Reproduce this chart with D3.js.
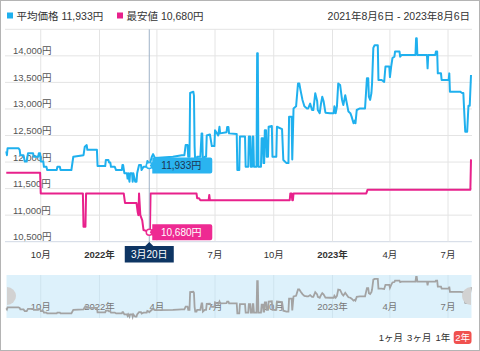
<!DOCTYPE html>
<html>
<head>
<meta charset="utf-8">
<script src="https://cdn.jsdelivr.net/npm/d3@7"></script>
<style>
    body { margin: 0; background: #fff; }
    svg { display: block; font-family: "Liberation Sans", "Noto Sans CJK JP", sans-serif; }
</style>
</head>
<body>
<div id="chart"></div>
<script>
// 平均価格 (average price)
const avgPrice = [
    ['2021-08-08',12200],['2021-08-09',12130],['2021-08-10',12260],['2021-08-27',12260],['2021-08-29',12230],
    ['2021-08-30',12130],['2021-09-04',12130],['2021-09-06',12010],['2021-09-09',12010],['2021-09-11',12165],
    ['2021-09-19',12165],['2021-09-20',12100],['2021-09-27',12100],['2021-09-28',12165],['2021-09-30',12165],
    ['2021-10-01',12010],['2021-10-05',12010],['2021-10-06',11910],['2021-10-10',11910],['2021-10-11',11850],
    ['2021-10-26',11850],['2021-10-27',11910],['2021-10-31',11910],['2021-11-01',11850],['2021-11-18',11850],
    ['2021-11-21',12100],['2021-12-07',12130],['2021-12-09',12290],['2021-12-12',12320],['2021-12-13',12230],
    ['2021-12-28',12230],['2021-12-29',11925],['2022-01-10',11925],['2022-01-11',12040],['2022-01-15',12040],
    ['2022-01-16',11990],['2022-01-18',11990],['2022-01-19',11910],['2022-01-25',11910],['2022-01-27',11850],
    ['2022-02-05',11850],['2022-02-06',11945],['2022-02-07',11945],['2022-02-09',11790],['2022-02-13',11790],
    ['2022-02-14',11690],['2022-02-15',11790],['2022-02-17',11630],['2022-02-18',11790],['2022-02-21',11790],
    ['2022-02-22',11630],['2022-02-23',11790],['2022-02-26',11630],['2022-02-28',11630],['2022-03-01',11790],
    ['2022-03-04',11945],['2022-03-07',11945],['2022-03-08',11850],['2022-03-11',11910],['2022-03-16',11910],
    ['2022-03-17',12020],['2022-03-19',11990],['2022-03-20',11933],['2022-03-24',12100],['2022-03-26',12150],
    ['2022-03-29',12075],['2022-04-26',12100],['2022-05-10',12130],['2022-05-14',12130],['2022-05-16',12320],
    ['2022-05-19',12320],['2022-05-20',12100],['2022-05-22',12100],['2022-05-23',13300],['2022-05-28',13325],
    ['2022-05-29',13250],['2022-05-30',12300],['2022-05-31',11980],['2022-06-02',11980],['2022-06-03',12100],
    ['2022-06-08',12100],['2022-06-10',12540],['2022-06-11',12540],['2022-06-12',11980],['2022-06-15',12100],
    ['2022-06-17',12100],['2022-06-18',12500],['2022-06-23',12520],['2022-06-26',12300],['2022-06-30',12300],
    ['2022-07-01',12600],['2022-07-06',12500],['2022-07-08',12665],['2022-07-09',12540],['2022-07-19',12560],
    ['2022-07-20',12660],['2022-07-22',12660],['2022-07-23',12540],['2022-08-04',12530],['2022-08-05',11850],
    ['2022-08-08',11850],['2022-08-09',12480],['2022-08-17',12480],['2022-08-18',11910],['2022-08-22',11910],
    ['2022-08-23',12480],['2022-08-25',12480],['2022-08-26',11910],['2022-08-28',11910],['2022-08-29',12480],
    ['2022-08-30',12480],['2022-08-31',11910],['2022-09-04',11910],['2022-09-05',14050],['2022-09-06',14050],
    ['2022-09-07',11910],['2022-09-11',11910],['2022-09-12',12450],['2022-09-14',12450],['2022-09-15',11980],
    ['2022-09-16',11980],['2022-09-17',12600],['2022-09-19',12600],['2022-09-20',12100],['2022-09-22',12100],
    ['2022-09-23',12665],['2022-09-28',12680],['2022-09-29',12100],['2022-10-05',12100],['2022-10-06',12665],
    ['2022-10-14',12620],['2022-10-16',12040],['2022-10-21',11980],['2022-10-24',11980],['2022-10-25',12855],
    ['2022-10-29',12855],['2022-10-30',12050],['2022-11-01',13010],['2022-11-05',13050],['2022-11-08',13480],
    ['2022-11-10',13480],['2022-11-12',13350],['2022-11-15',13170],['2022-11-18',13050],['2022-11-22',13010],
    ['2022-11-24',13010],['2022-11-27',13100],['2022-11-30',12980],['2022-12-02',12980],['2022-12-05',13295],
    ['2022-12-08',13150],['2022-12-09',12980],['2022-12-12',12920],['2022-12-14',13100],['2022-12-16',13230],
    ['2022-12-18',13150],['2022-12-21',12930],['2022-12-28',12920],['2023-01-03',12920],['2023-01-04',13050],
    ['2023-01-06',12920],['2023-01-08',13050],['2023-01-10',13480],['2023-01-13',13450],['2023-01-16',13170],
    ['2023-01-18',13075],['2023-01-21',13260],['2023-01-24',13075],['2023-01-26',12950],['2023-01-29',12920],
    ['2023-01-31',12855],['2023-02-03',12730],['2023-02-05',12780],['2023-02-06',12730],['2023-02-08',12980],
    ['2023-02-13',13010],['2023-02-21',13010],['2023-02-24',13580],['2023-02-26',13580],['2023-02-27',13230],
    ['2023-03-01',13170],['2023-03-03',13300],['2023-03-04',13480],['2023-03-06',14150],['2023-03-08',14200],
    ['2023-03-13',14200],['2023-03-14',13545],['2023-03-19',13545],['2023-03-23',13510],['2023-03-25',13800],
    ['2023-03-31',13800],['2023-04-01',13600],['2023-04-03',13800],['2023-04-05',13960],['2023-04-08',13985],
    ['2023-04-09',14080],['2023-04-16',14080],['2023-04-17',13985],['2023-04-19',14015],['2023-05-11',14015],
    ['2023-05-12',14330],['2023-05-13',14330],['2023-05-14',14015],['2023-05-29',14015],['2023-05-30',13765],
    ['2023-05-31',14015],['2023-06-11',14015],['2023-06-12',14080],['2023-06-14',14080],['2023-06-15',13670],
    ['2023-06-20',13670],['2023-06-21',13545],['2023-07-02',13545],['2023-07-03',13670],['2023-07-04',13325],
    ['2023-07-20',13325],['2023-07-23',13300],['2023-07-25',13300],['2023-07-26',13040],['2023-07-28',12570],
    ['2023-07-31',12570],['2023-08-02',13060],['2023-08-04',13060],['2023-08-06',13640]
];

// 最安値 (lowest price)
const minPrice = [
    ['2021-08-08',11800],['2021-09-30',11800],['2021-10-01',11410],['2021-12-06',11410],['2021-12-07',10780],
    ['2021-12-10',10780],['2021-12-11',11410],['2022-02-08',11410],['2022-02-10',11230],['2022-02-28',11230],
    ['2022-03-02',11050],['2022-03-03',11000],['2022-03-04',11410],['2022-03-06',11000],['2022-03-09',10900],
    ['2022-03-11',10720],['2022-03-16',10700],['2022-03-20',10680],['2022-03-21',10680],['2022-03-22',11410],
    ['2022-06-02',11410],['2022-06-03',11320],['2022-06-06',11320],['2022-06-08',11280],['2022-06-21',11280],
    ['2022-06-22',11380],['2022-06-23',11280],['2022-10-26',11280],['2022-10-27',11410],['2022-10-29',11410],
    ['2022-10-30',11280],['2022-10-31',11280],['2022-11-01',11410],['2023-02-23',11410],['2023-02-25',11480],
    ['2023-08-05',11480],['2023-08-06',12050]
];

const yTicks = [10500, 11000, 11500, 12000, 12500, 13000, 13500, 14000];
const yGrid = [10500, 11000, 11500, 12000, 12500, 13000, 13500, 14000, 14500];
const xTickDates = ['2021-10-01', '2022-01-01', '2022-04-01', '2022-07-01', '2022-10-01', '2023-01-01', '2023-04-01', '2023-07-01'];
const xTickLabels = ['10月', '2022年', '4月', '7月', '10月', '2023年', '4月', '7月'];
const rangeButtons = ['1ヶ月', '3ヶ月', '1年', '2年'];
const hover = { date: '2022-03-20', avg: 11933, min: 10680, label: '3月20日' };
const period = ['2021-08-06', '2023-08-06'];

const BLUE = '#1fb0ee';
const PINK = '#e8218c';

const parse = d3.timeParse('%Y-%m-%d');
const fmt = d3.format(',');

const svg = d3.select('#chart')
    .append('svg')
    .attr('width', 480)
    .attr('height', 351);

// Scales
const xScale = d3.scaleTime()
    .domain(period.map(parse))
    .range([5, 471]);

const yScale = d3.scaleLinear()
    .domain([10500, 14500])
    .range([241.7, 29.3]);

// Outer frame
svg.append('rect')
    .attr('x', 0.5).attr('y', 0.5)
    .attr('width', 479).attr('height', 350)
    .attr('fill', 'none')
    .attr('stroke', '#b4b4b4');

// Header legend
const legend = [
    { name: '平均価格', value: hover.avg, color: BLUE, x: 7 },
    { name: '最安値', value: hover.min, color: PINK, x: 117 }
];
legend.forEach(l => {
    svg.append('rect')
        .attr('x', l.x).attr('y', 12.5)
        .attr('width', 6).attr('height', 6)
        .attr('fill', l.color);
    svg.append('text')
        .attr('x', l.x + 9.5).attr('y', 20)
        .attr('font-size', 10.5)
        .attr('fill', '#333')
        .text(`${l.name} ${fmt(l.value)}円`);
});

const fmtJP = d => { const t = parse(d); return `${t.getFullYear()}年${t.getMonth() + 1}月${t.getDate()}日`; };
svg.append('text')
    .attr('x', 470).attr('y', 20)
    .attr('text-anchor', 'end')
    .attr('font-size', 10.5)
    .attr('fill', '#333')
    .text(`${fmtJP(period[0])} - ${fmtJP(period[1])}`);

// Grid lines
svg.append('g')
    .selectAll('line')
    .data(yGrid)
    .enter()
    .append('line')
    .attr('x1', 5).attr('x2', 472)
    .attr('y1', d => yScale(d)).attr('y2', d => yScale(d))
    .attr('stroke', d => d === 10500 ? '#d0d8e4' : '#e4e4e4');

svg.append('g')
    .selectAll('line')
    .data(xTickDates)
    .enter()
    .append('line')
    .attr('x1', d => xScale(parse(d))).attr('x2', d => xScale(parse(d)))
    .attr('y1', yScale(14500)).attr('y2', yScale(10500))
    .attr('stroke', '#e4e4e4');

// Y labels (inside plot)
svg.append('g')
    .selectAll('text')
    .data(yTicks)
    .enter()
    .append('text')
    .attr('x', 13)
    .attr('y', d => yScale(d) - 1.5)
    .attr('font-size', 9.5)
    .attr('fill', '#555')
    .text(d => fmt(d) + '円');

const cx = xScale(parse(hover.date));

// X axis labels (the one under the hover date label is covered, so skip it)
const xLabels = xTickDates.map((d, i) => ({ d, label: xTickLabels[i] }))
    .filter(t => Math.abs(xScale(parse(t.d)) - cx) > 30);

svg.append('g')
    .selectAll('text')
    .data(xLabels)
    .enter()
    .append('text')
    .attr('x', t => xScale(parse(t.d)))
    .attr('y', 258)
    .attr('text-anchor', 'middle')
    .attr('font-size', 9.5)
    .attr('font-weight', t => t.label.includes('年') ? 'bold' : 'normal')
    .attr('fill', '#333')
    .text(t => t.label);

// Lines
const line = d3.line()
    .x(d => xScale(parse(d[0])))
    .y(d => yScale(d[1]));

svg.append('path')
    .datum(minPrice)
    .attr('fill', 'none')
    .attr('stroke', PINK)
    .attr('stroke-width', 2)
    .attr('stroke-linejoin', 'round')
    .attr('d', line);

svg.append('path')
    .datum(avgPrice)
    .attr('fill', 'none')
    .attr('stroke', BLUE)
    .attr('stroke-width', 2)
    .attr('stroke-linejoin', 'round')
    .attr('d', line);

// Crosshair + tooltips
svg.append('line')
    .attr('x1', cx).attr('x2', cx)
    .attr('y1', yScale(14500)).attr('y2', 244)
    .attr('stroke', '#9fb3c8')
    .attr('stroke-width', 1);

const tips = [
    { value: hover.avg, fill: '#2ab4f0', text: '#1c3550' },
    { value: hover.min, fill: '#ee2a92', text: '#fff' }
];
tips.forEach(t => {
    const ty = yScale(t.value);
    svg.append('circle')
        .attr('cx', cx).attr('cy', ty).attr('r', 3)
        .attr('fill', '#fff')
        .attr('stroke', t.fill).attr('stroke-width', 1.5);
    svg.append('path')
        .attr('d', `M${cx + 3},${ty - 8} H${cx + 61} a2,2 0 0 1 2,2 V${ty + 6} a2,2 0 0 1 -2,2 H${cx + 3} V${ty + 3.5} L${cx + 0.5},${ty} L${cx + 3},${ty - 3.5} Z`)
        .attr('fill', t.fill);
    svg.append('text')
        .attr('x', cx + 32).attr('y', ty + 3.8)
        .attr('text-anchor', 'middle')
        .attr('font-size', 10)
        .attr('fill', t.text)
        .text(fmt(t.value) + '円');
});

// Date label under the axis
svg.append('path')
    .attr('d', `M${cx - 24.5},246 H${cx - 4} L${cx},242 L${cx + 4},246 H${cx + 24.5} V262.5 H${cx - 24.5} Z`)
    .attr('fill', '#0e3563');
svg.append('text')
    .attr('x', cx).attr('y', 258)
    .attr('text-anchor', 'middle')
    .attr('font-size', 10)
    .attr('fill', '#fff')
    .text(hover.label);

// Navigator
const navTop = 275, navBottom = 318;
svg.append('rect')
    .attr('x', 6.5).attr('y', navTop)
    .attr('width', 465).attr('height', navBottom - navTop)
    .attr('fill', '#ddf1fb');

svg.append('g')
    .selectAll('line')
    .data(xTickDates)
    .enter()
    .append('line')
    .attr('x1', d => xScale(parse(d))).attr('x2', d => xScale(parse(d)))
    .attr('y1', navTop).attr('y2', navBottom)
    .attr('stroke', '#cfe4ef');

const navY = d3.scaleLinear()
    .domain(d3.extent(avgPrice, d => d[1]))
    .range([316.7, 277]);

svg.append('g')
    .selectAll('text')
    .data(xTickDates)
    .enter()
    .append('text')
    .attr('x', d => xScale(parse(d)))
    .attr('y', 310)
    .attr('text-anchor', 'middle')
    .attr('font-size', 9.5)
    .attr('fill', '#777')
    .text((d, i) => xTickLabels[i]);

svg.append('path')
    .datum(avgPrice)
    .attr('fill', 'none')
    .attr('stroke', '#a3a3a3')
    .attr('stroke-width', 1.8)
    .attr('d', d3.line().x(d => xScale(parse(d[0]))).y(d => navY(d[1])));

// Navigator handles
svg.append('path')
    .attr('d', 'M7,287 A9,9 0 0 1 7,305 Z')
    .attr('fill', '#d2d2d2');
svg.append('path')
    .attr('d', 'M471,287 A9,9 0 0 0 471,305 Z')
    .attr('fill', '#d2d2d2');

// Range selector, laid out right to left
const btnGroup = svg.append('g');
let bx = 470;
for (let i = rangeButtons.length - 1; i >= 0; i--) {
    const active = i === rangeButtons.length - 1;
    const t = btnGroup.append('text')
        .attr('y', 341)
        .attr('font-size', 9.5)
        .attr('fill', active ? '#fff' : '#333')
        .text(rangeButtons[i]);
    const w = t.node().getComputedTextLength();
    t.attr('x', bx - w);
    if (active) {
        btnGroup.insert('rect', 'text')
            .attr('x', bx - w - 1.5).attr('y', 331)
            .attr('width', w + 3).attr('height', 13)
            .attr('rx', 3)
            .attr('fill', '#f0514f');
    }
    bx -= w + (active ? 5 : 4);
}
</script>
</body>
</html>
